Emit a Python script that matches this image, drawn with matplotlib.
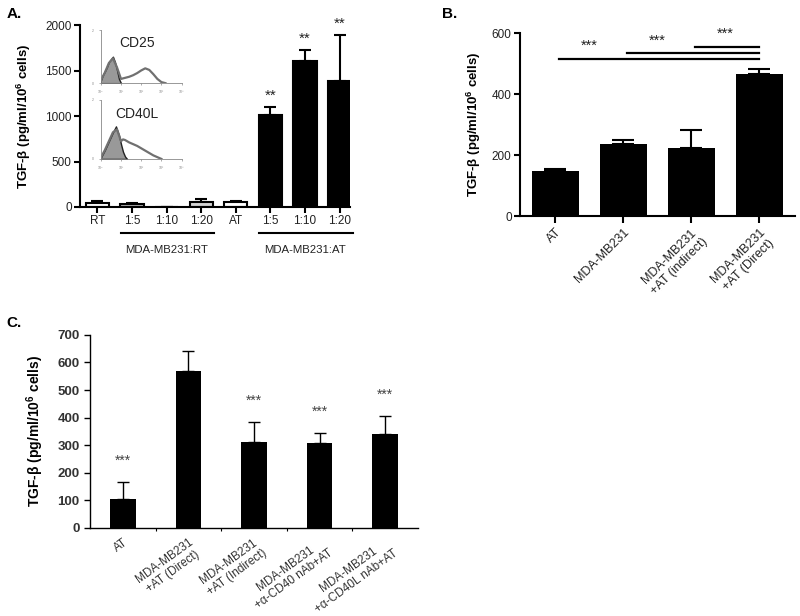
import matplotlib.pyplot as plt
import matplotlib.transforms as mtransforms
import numpy as np

plt.rcParams['font.family'] = ['Liberation Sans', 'DejaVu Sans']
plt.rcParams['mathtext.fontset'] = 'custom'
plt.rcParams['mathtext.rm'] = 'Liberation Sans'
plt.rcParams['mathtext.bf'] = 'Liberation Sans:bold'

ylab = r'TGF-β (pg/ml/10$^{\mathbf{6}}$ cells)'
txt = '#222222'

# panel A
a_labels = ['RT', '1:5', '1:10', '1:20', 'AT', '1:5', '1:10', '1:20']
a_vals = [44, 33, 0, 55, 55, 1010, 1608, 1385]
a_err = [19, 11, 0, 37, 11, 93, 125, 505]
a_colors = ['white', '#b4b4b4', '#b4b4b4', '#d4d4d4', 'white', 'black', 'black', 'black']
a_sig = ['', '', '', '', '', '**', '**', '**']
a_groups = ['MDA-MB231:RT', 'MDA-MB231:AT']

# inset histograms (log decades vs relative counts)
cd25_fill_x = [0, 0.1, 0.2, 0.3, 0.4, 0.5, 0.6, 0.7, 0.8, 0.9, 1.0]
cd25_fill_y = [0.05, 0.15, 0.22, 0.3, 0.4, 0.45, 0.5, 0.4, 0.25, 0.08, 0.0]
cd25_open_x = [0, 0.2, 0.4, 0.6, 0.8, 1.0, 1.2, 1.4, 1.6, 1.8, 2.0, 2.2, 2.4, 2.6, 2.8, 3.0, 3.2]
cd25_open_y = [0.05, 0.2, 0.38, 0.47, 0.3, 0.08, 0.1, 0.12, 0.15, 0.19, 0.24, 0.28, 0.25, 0.17, 0.08, 0.02, 0.0]
cd40l_fill_x = [0, 0.2, 0.4, 0.6, 0.75, 0.9, 1.0, 1.1, 1.2, 1.3]
cd40l_fill_y = [0.02, 0.15, 0.3, 0.45, 0.55, 0.4, 0.25, 0.12, 0.04, 0.0]
cd40l_open_x = [0, 0.2, 0.4, 0.6, 0.8, 1.0, 1.1, 1.2, 1.4, 1.6, 1.8, 2.0, 2.2, 2.4, 2.6, 2.8, 3.0]
cd40l_open_y = [0.02, 0.15, 0.3, 0.45, 0.5, 0.3, 0.33, 0.32, 0.28, 0.25, 0.22, 0.18, 0.14, 0.1, 0.06, 0.03, 0.0]

# panel B
b_labels = ['AT', 'MDA-MB231', 'MDA-MB231\n+AT (indirect)', 'MDA-MB231\n+AT (Direct)']
b_vals = [149, 236, 224, 467]
b_err = [5, 15, 58, 16]
b_comp = [(0, 3, 516), (1, 3, 536), (2, 3, 554)]
b_star_y = [559, 576, 597]

# panel C
c_labels = ['AT', 'MDA-MB231\n+AT (Direct)', 'MDA-MB231\n+AT (Indirect)',
            'MDA-MB231\n+α-CD40 nAb+AT', 'MDA-MB231\n+α-CD40L nAb+AT']
c_vals = [104, 570, 312, 309, 339]
c_err = [62, 73, 72, 36, 67]
c_sig = ['***', '', '***', '***', '***']


def style(ax, size):
    for s in ['top', 'right']:
        ax.spines[s].set_visible(False)
    for s in ['left', 'bottom']:
        ax.spines[s].set_linewidth(1.5)
    ax.tick_params(axis='both', width=1.5, length=4, labelsize=size, colors='black',
                   labelcolor=txt, pad=2)


fig = plt.figure(figsize=(8, 6.16), dpi=100)

# ---------- A ----------
ax = fig.add_axes([0.1, 0.664, 0.3375, 0.295])
xa = np.arange(len(a_vals))
ax.bar(xa, a_vals, width=0.67, color=a_colors, edgecolor='black', linewidth=1.5, zorder=2)
ax.errorbar(xa, a_vals, yerr=[np.zeros(len(a_err)), a_err], fmt='none', ecolor='black',
            elinewidth=1.5, capsize=4.5, capthick=1.5, zorder=1)
for i in range(len(a_vals)):
    if a_sig[i]:
        ax.annotate(a_sig[i], (xa[i], a_vals[i] + a_err[i]), xytext=(0, 3),
                    textcoords='offset points', ha='center', va='bottom', fontsize=11, color=txt)
ax.set_xlim(-0.5, 7.3)
ax.set_ylim(0, 2000)
ax.set_yticks([0, 500, 1000, 1500, 2000])
ax.set_xticks(xa)
ax.set_xticklabels(a_labels)
style(ax, 8.5)
ax.set_ylabel(ylab, fontsize=9.5, fontweight='bold')
ax.yaxis.set_label_coords(-0.175, 0.5)
tr = ax.get_xaxis_transform()
for g, (lo, hi) in zip(a_groups, [(1, 3), (5, 7)]):
    ax.plot([lo - 0.32, hi + 0.38], [-0.145, -0.145], color='black', lw=1.5,
            transform=tr, clip_on=False)
    ax.text((lo + hi) / 2, -0.235, g, transform=tr, ha='center', va='center',
            fontsize=8.2, color=txt)
fig.text(0.008, 0.978, 'A.', fontsize=11, fontweight='bold', va='center')

for pos, fx, fy, ox, oy, name in [
        ([0.126, 0.865, 0.101, 0.086], cd25_fill_x, cd25_fill_y, cd25_open_x, cd25_open_y, 'CD25'),
        ([0.126, 0.742, 0.101, 0.096], cd40l_fill_x, cd40l_fill_y, cd40l_open_x, cd40l_open_y, 'CD40L')]:
    ins = fig.add_axes(pos)
    ins.fill_between(fx, fy, color='#999999', edgecolor='#222222', lw=1.0, zorder=1)
    ins.plot(ox, oy, color='#707070', lw=1.6, zorder=2)
    ins.set_xlim(0, 4)
    ins.set_ylim(0, 1)
    ins.patch.set_alpha(0)
    for s in ['top', 'right']:
        ins.spines[s].set_visible(False)
    for s in ['left', 'bottom']:
        ins.spines[s].set_color('#888888')
        ins.spines[s].set_linewidth(0.6)
    ins.set_xticks([0, 1, 2, 3, 4])
    ins.set_yticks([0, 1])
    ins.tick_params(length=1.5, width=0.5, colors='#888888', labelsize=2.5)
    ins.set_xticklabels(['10⁰', '10¹', '10²', '10³', '10⁴'])
    ins.set_yticklabels(['0', '2'])
    ins.text(0.45, 0.76, name, transform=ins.transAxes, fontsize=10, color=txt,
             ha='center', va='center')

# ---------- B ----------
ax = fig.add_axes([0.65, 0.649, 0.344, 0.297])
xb = np.arange(len(b_vals))
ax.bar(xb, b_vals, width=0.69, color='black', zorder=2)
ax.errorbar(xb, b_vals, yerr=[np.zeros(len(b_err)), b_err], fmt='none', ecolor='black',
            elinewidth=1.5, capsize=8, capthick=1.5, zorder=1)
for (i0, i1, yv), sy in zip(b_comp, b_star_y):
    ax.plot([xb[i0] + 0.05, xb[i1]], [yv, yv], color='black', lw=1.6, clip_on=False)
    ax.text(xb[i0] + 0.5, sy, '***', ha='center', va='center', fontsize=10.5, color=txt)
ax.set_xlim(-0.52, 3.53)
ax.set_ylim(0, 600)
ax.set_yticks([0, 200, 400, 600])
ax.set_xticks(xb)
ax.set_xticklabels(b_labels, rotation=45, ha='right', rotation_mode='anchor',
                   multialignment='center')
style(ax, 8.5)
ax.tick_params(axis='x', length=5, labelsize=9)
ax.set_ylabel(ylab, fontsize=9.5, fontweight='bold')
ax.yaxis.set_label_coords(-0.135, 0.5)
fig.text(0.553, 0.978, 'B.', fontsize=11, fontweight='bold', va='center')

# ---------- C ----------
ax = fig.add_axes([0.1125, 0.1433, 0.41, 0.313])
xc = np.arange(len(c_vals))
ax.bar(xc, c_vals, width=0.39, color='black', zorder=2)
ax.errorbar(xc, c_vals, yerr=[np.zeros(len(c_err)), c_err], fmt='none', ecolor='black',
            elinewidth=1.0, capsize=4.5, capthick=1.0, zorder=1)
for i in range(len(c_vals)):
    if c_sig[i]:
        ax.annotate(c_sig[i], (xc[i], c_vals[i] + c_err[i]), xytext=(0, 10),
                    textcoords='offset points', ha='center', va='bottom', fontsize=10, color='#444444')
ax.set_xlim(-0.5, 4.5)
ax.set_ylim(0, 700)
ax.set_yticks(range(0, 701, 100))
ax.set_xticks(xc)
ax.set_xticks(xc[:-1] + 0.5, minor=True)
ax.set_xticklabels(c_labels, rotation=36, ha='right', rotation_mode='anchor',
                   multialignment='center')
shift = mtransforms.ScaledTranslation(10 / 72, 0, fig.dpi_scale_trans)
for t in ax.get_xticklabels():
    t.set_transform(t.get_transform() + shift)
for s in ['top', 'right']:
    ax.spines[s].set_visible(False)
ax.spines['left'].set_linewidth(1.0)
ax.spines['bottom'].set_linewidth(1.0)
ax.tick_params(axis='y', length=4, width=1.0, labelsize=9.5, labelcolor='#333333')
ax.tick_params(axis='x', which='major', length=0, labelsize=8.5, labelcolor='#333333', pad=6)
ax.tick_params(axis='x', which='minor', length=2, width=0.8)
for t in ax.get_yticklabels():
    t.set_fontweight('bold')
ax.set_ylabel(ylab, fontsize=10, fontweight='bold')
ax.yaxis.set_label_coords(-0.135, 0.5)
fig.text(0.008, 0.475, 'C.', fontsize=11, fontweight='bold', va='center')

fig.savefig('out.png', dpi=100)
